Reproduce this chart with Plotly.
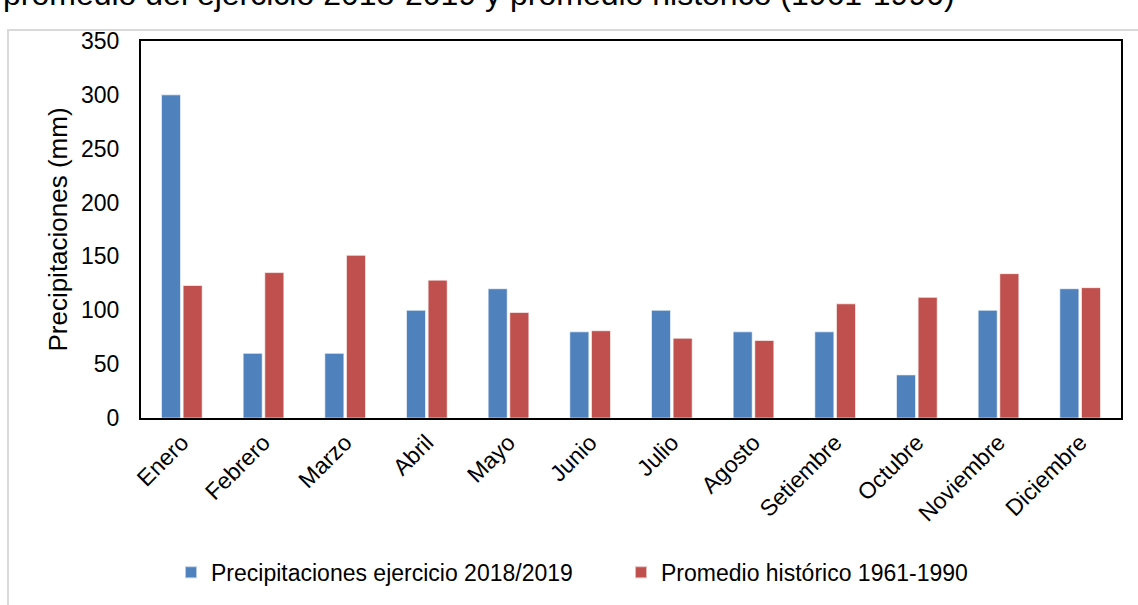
import plotly.graph_objects as go

meses = ["Enero", "Febrero", "Marzo", "Abril", "Mayo", "Junio", "Julio",
         "Agosto", "Setiembre", "Octubre", "Noviembre", "Diciembre"]
precip_2018_2019 = [300, 60, 60, 100, 120, 80, 100, 80, 80, 40, 100, 120]
promedio_1961_1990 = [123, 135, 151, 128, 98, 81, 74, 72, 106, 112, 134, 121]
y_ticks = [0, 50, 100, 150, 200, 250, 300, 350]

FONT = "Liberation Sans, Arial, sans-serif"
W, H = 1138, 605
ML, MR, MT, MB = 141, 17, 41, 185
PW, PH = W - ML - MR, H - MT - MB


def px_x(x):
    return (x - ML) / PW


def px_y(y):
    return (H - MB - y) / PH


fig = go.Figure()
fig.add_trace(go.Bar(
    x=meses, y=precip_2018_2019, name="Precipitaciones ejercicio 2018/2019",
    marker=dict(color="#4f81bd", line=dict(color="rgba(255,255,255,0.6)", width=1)),
))
fig.add_trace(go.Bar(
    x=meses, y=promedio_1961_1990, name="Promedio histórico 1961-1990",
    marker=dict(color="#c0504d", line=dict(color="rgba(255,255,255,0.6)", width=1)),
))

fig.update_layout(
    width=W, height=H,
    margin=dict(l=ML, r=MR, t=MT, b=MB),
    paper_bgcolor="white", plot_bgcolor="white",
    font=dict(family=FONT, color="black"),
    barmode="group", bargap=0.47, bargroupgap=0.12,
    showlegend=True,
    legend=dict(orientation="h", x=px_x(171), xanchor="left", y=px_y(575), yanchor="middle",
                font=dict(size=23, family=FONT), traceorder="normal",
                entrywidth=405, itemsizing="constant", itemwidth=30),
)

fig.update_xaxes(
    showline=True, linecolor="black", linewidth=2, mirror=True,
    tickangle=-45, tickfont=dict(size=23, family=FONT),
    ticks="", showgrid=False,
)
fig.update_yaxes(
    range=[0, 350], tickvals=y_ticks, showline=True, linecolor="black", linewidth=2,
    mirror=True, showgrid=False, zeroline=False, ticks="",
    tickfont=dict(size=23, family=FONT), ticklabelstandoff=15,
    title=dict(text="Precipitaciones (mm)", font=dict(size=26, family=FONT), standoff=6),
)

# Chart frame
fig.add_shape(type="rect", xref="paper", yref="paper",
              x0=px_x(8), x1=px_x(W + 20), y0=px_y(H + 20), y1=px_y(30),
              line=dict(color="#d9d9d9", width=2), fillcolor="rgba(0,0,0,0)", layer="below")

# Title
fig.add_annotation(
    text="promedio del ejercicio 2018-2019 y promedio histórico (1961-1990)",
    xref="paper", yref="paper", x=px_x(1), y=px_y(14), xanchor="left", yanchor="bottom",
    showarrow=False, font=dict(size=32, family=FONT, color="black"),
)

fig.write_html("out.html")
